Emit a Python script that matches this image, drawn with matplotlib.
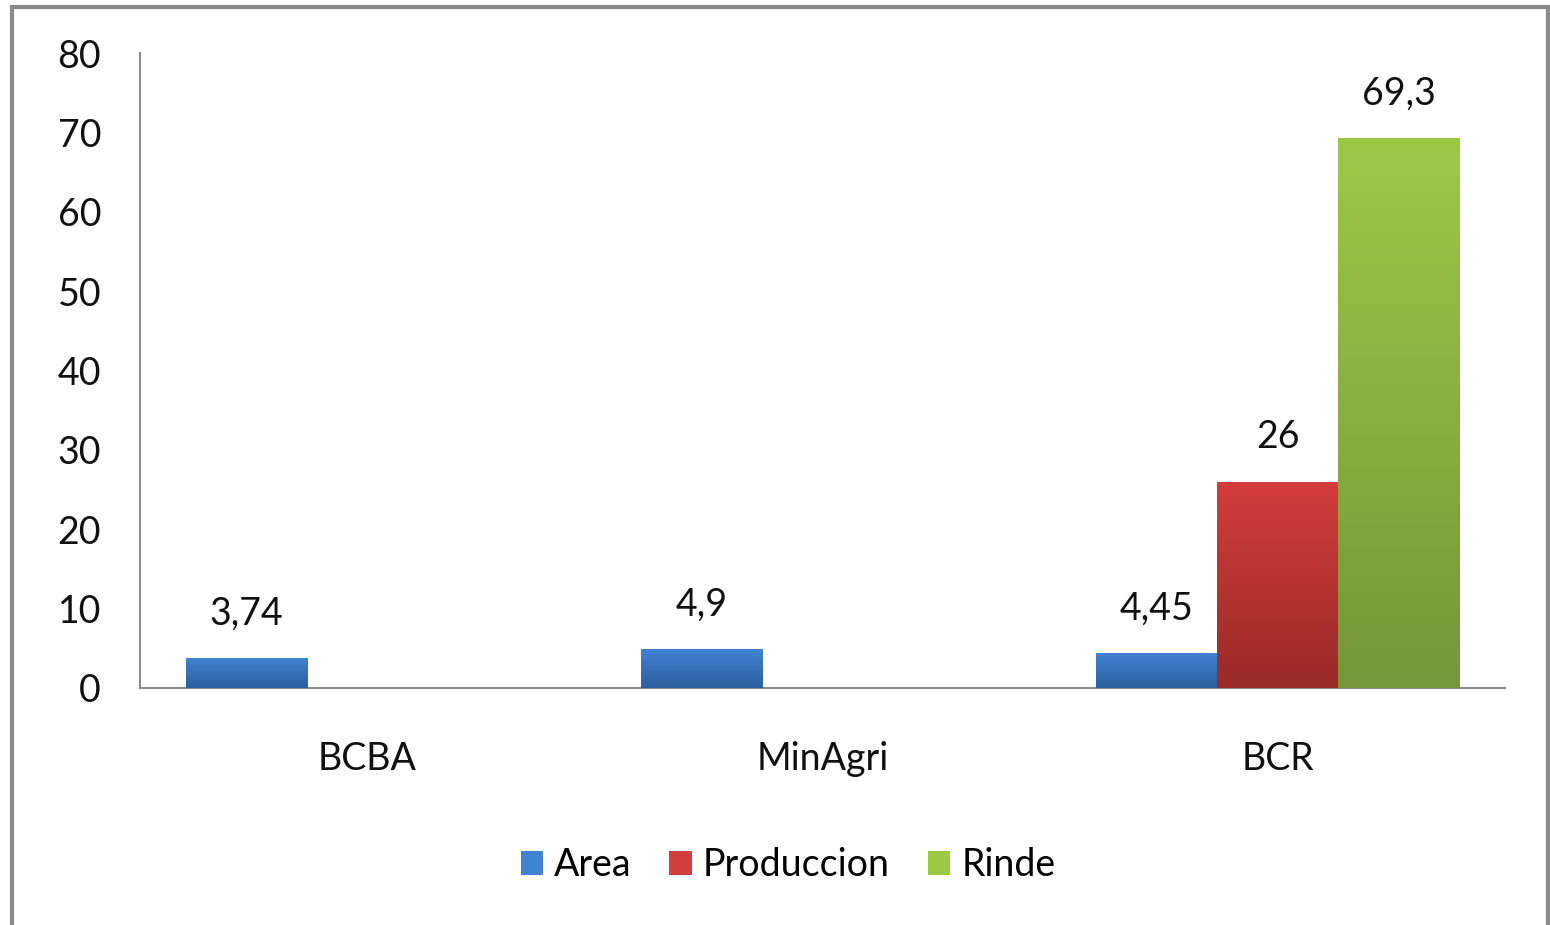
import numpy as np
import matplotlib.pyplot as plt
from matplotlib.patches import Rectangle
from matplotlib.colors import LinearSegmentedColormap

plt.rcParams['font.family'] = ['Lato', 'DejaVu Sans']

categories = ['BCBA', 'MinAgri', 'BCR']
series = ['Area', 'Produccion', 'Rinde']
area = [3.74, 4.9, 4.45]
produccion = [0, 0, 26]
rinde = [0, 0, 69.3]
labels_area = ['3,74', '4,9', '4,45']
labels_prod = ['', '', '26']
labels_rinde = ['', '', '69,3']

# gradiente (arriba, abajo) de cada serie
grad = {
    'Area': ('#4183d3', '#2d5f9f'),
    'Produccion': ('#d33d3b', '#992a28'),
    'Rinde': ('#9dc846', '#759638'),
}

fig = plt.figure(figsize=(15.5, 9.25), dpi=100)
ax = fig.add_axes([140/1550, 1-688/925, 1365/1550, 635/925])

x = np.arange(len(categories))
w = 0.266
offsets = [-w, 0, w]
values = [area, produccion, rinde]
texts = [labels_area, labels_prod, labels_rinde]
fs = 27

for s, off, vals, labs in zip(series, offsets, values, texts):
    cmap = LinearSegmentedColormap.from_list(s, [grad[s][1], grad[s][0]])
    bars = ax.bar(x + off, vals, width=w, color=grad[s][0], label=s, zorder=2)
    for b, lab in zip(bars, labs):
        h = b.get_height()
        if h > 0:
            x0 = b.get_x()
            im = ax.imshow(np.linspace(0, 1, 256).reshape(-1, 1), cmap=cmap,
                           origin='lower', aspect='auto',
                           extent=[x0, x0 + w, 0, h], zorder=3)
            im.set_clip_path(b)
        if lab:
            ax.annotate(lab, (b.get_x() + w / 2, h), xytext=(0, 19),
                        textcoords='offset points', ha='center', va='bottom',
                        fontsize=fs, color='#111111')

ax.set_xlim(-0.5, 2.5)
ax.set_ylim(0, 80)
ax.set_yticks(range(0, 81, 10))
ax.set_xticks(x)
ax.set_xticklabels(categories)
ax.tick_params(axis='both', length=0, labelsize=fs, colors='#111111')
ax.tick_params(axis='y', pad=28)
ax.tick_params(axis='x', pad=38)
for sp in ['top', 'right']:
    ax.spines[sp].set_visible(False)
for sp in ['left', 'bottom']:
    ax.spines[sp].set_color('#8c8c8c')
    ax.spines[sp].set_linewidth(1.5)

leg = fig.legend(loc='center', bbox_to_anchor=(788/1550, 1-865/925), ncol=3,
                 frameon=False, fontsize=fs, handlelength=0.6, handleheight=0.6,
                 handletextpad=0.3, columnspacing=1.0)

# marco exterior
fig.patches.append(Rectangle((12/1550, -0.05), 1536/1550, 1.05 - 7/925,
                             transform=fig.transFigure, fill=False,
                             edgecolor='#8a8a8a', linewidth=3))

fig.savefig('out.png', dpi=100)
